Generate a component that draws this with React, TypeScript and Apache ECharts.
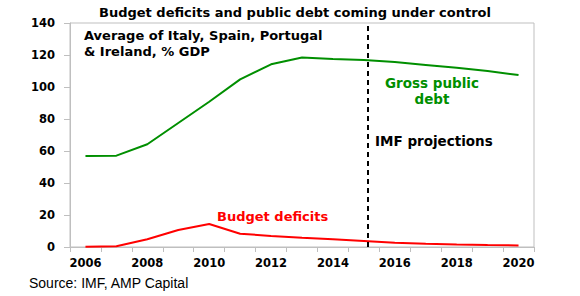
import React, { useEffect, useRef } from "react";
import * as echarts from "echarts";

const years = ["2006","2007","2008","2009","2010","2011","2012","2013","2014","2015","2016","2017","2018","2019","2020"];
const grossDebt = [56.9, 57.1, 64.2, 77.5, 90.8, 104.8, 114.2, 118.4, 117.5, 116.9, 115.6, 113.8, 112.0, 110.0, 107.5];
const budgetDeficit = [0.1, 0.5, 4.8, 10.6, 14.4, 8.3, 6.9, 5.8, 4.8, 3.8, 2.7, 2.1, 1.6, 1.2, 1.0];
const projectionStart = 9.64; // position along the year axis (in category widths)

const BOLD = "DejaVu Sans, Verdana, sans-serif";
const REG = "Liberation Sans, Arial, sans-serif";
const GREEN = "#008f00";
const RED = "#ff0000";

export default function App() {
  const ref = useRef<HTMLDivElement>(null);
  useEffect(() => {
    document.body.style.margin = "0";
    if (!ref.current) return;
    const chart = echarts.init(ref.current, undefined, { renderer: "svg" });
    chart.setOption({
      animation: false,
      grid: {
        left: 70, right: 46, top: 23, bottom: 49,
        show: true, borderColor: "#bfbfbf", borderWidth: 1,
      },
      xAxis: [
        {
          type: "category",
          data: years,
          boundaryGap: true,
          axisLine: { lineStyle: { color: "#bfbfbf" } },
          axisTick: { show: true, length: 5, interval: 0, lineStyle: { color: "#bfbfbf" } },
          axisLabel: {
            interval: 1, color: "#000", fontFamily: BOLD, fontWeight: "bold", fontSize: 11.5, margin: 10,
          },
        },
        { type: "value", min: 0, max: 15, show: false },
      ],
      yAxis: {
        type: "value",
        min: 0, max: 140, interval: 20,
        splitLine: { show: false },
        axisLine: { show: true, lineStyle: { color: "#bfbfbf" } },
        axisTick: { show: true, length: 6, lineStyle: { color: "#bfbfbf" } },
        axisLabel: { color: "#000", fontFamily: BOLD, fontWeight: "bold", fontSize: 11.5, margin: 15 },
      },
      series: [
        {
          type: "line", data: grossDebt, symbol: "none",
          lineStyle: { color: GREEN, width: 2 },
        },
        {
          type: "line", data: budgetDeficit, symbol: "none",
          lineStyle: { color: RED, width: 2 },
        },
        {
          type: "line", xAxisIndex: 1, data: [], symbol: "none",
          markLine: {
            silent: true, symbol: "none", label: { show: false },
            lineStyle: { color: "#000", type: [5, 4], width: 2 },
            data: [{ xAxis: projectionStart }],
          },
        },
      ],
      graphic: [
        {
          type: "text", x: 295, y: 12,
          style: {
            text: "Budget deficits and public debt coming under control",
            font: `bold 13px ${BOLD}`, fill: "#000", align: "center", verticalAlign: "middle",
          },
        },
        {
          type: "text", x: 84, y: 35,
          style: {
            text: "Average of Italy, Spain, Portugal",
            font: `bold 13px ${BOLD}`, fill: "#000", verticalAlign: "middle",
          },
        },
        {
          type: "text", x: 84, y: 51,
          style: {
            text: "& Ireland, % GDP",
            font: `bold 13px ${BOLD}`, fill: "#000", verticalAlign: "middle",
          },
        },
        {
          type: "text", x: 432, y: 83,
          style: { text: "Gross public", font: `bold 13.5px ${BOLD}`, fill: GREEN, align: "center", verticalAlign: "middle" },
        },
        {
          type: "text", x: 432, y: 99,
          style: { text: "debt", font: `bold 13.5px ${BOLD}`, fill: GREEN, align: "center", verticalAlign: "middle" },
        },
        {
          type: "text", x: 375, y: 141,
          style: { text: "IMF projections", font: `bold 13.5px ${BOLD}`, fill: "#000", verticalAlign: "middle" },
        },
        {
          type: "text", x: 217, y: 216,
          style: { text: "Budget deficits", font: `bold 13px ${BOLD}`, fill: RED, verticalAlign: "middle" },
        },
        {
          type: "text", x: 29, y: 283,
          style: { text: "Source: IMF, AMP Capital", font: `14px ${REG}`, fill: "#000", verticalAlign: "middle" },
        },
      ],
    });
    return () => chart.dispose();
  }, []);
  return <div ref={ref} style={{ width: 580, height: 296 }} />;
}
